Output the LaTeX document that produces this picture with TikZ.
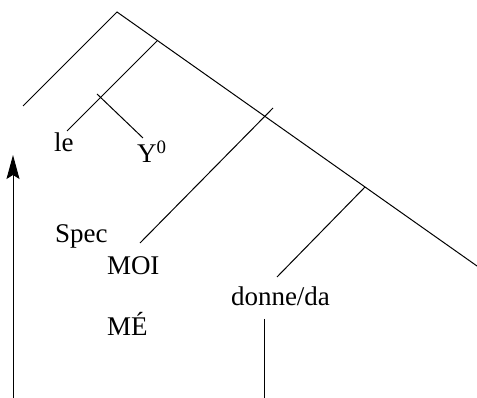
\documentclass[tikz,border=0pt]{standalone}
\usepackage{fontspec}
\setmainfont{Liberation Serif}
\usetikzlibrary{arrows.meta}
\begin{document}
\begin{tikzpicture}[x=1pt,y=-1pt,
  treeline/.style={line width=1pt,line cap=butt},
  lbl/.style={anchor=base west,inner sep=0pt,outer sep=0pt,font=\fontsize{27}{31}\selectfont}]
\useasboundingbox (0,0) rectangle (477,398);
% tree points
\coordinate (apex) at (117,12);
\coordinate (leftend) at (23,106);
\coordinate (rightend) at (477,266);
\coordinate (b2top) at (157,41);
\coordinate (b2end) at (67,131);
\coordinate (b3a) at (97,94);
\coordinate (b3b) at (143,138);
\coordinate (b4top) at (273,108);
\coordinate (b4end) at (140,243);
\coordinate (b5top) at (365,187);
\coordinate (b5end) at (277,277);
\coordinate (vtop) at (264,319);
\coordinate (vbot) at (264,398);
\coordinate (arrbot) at (13,398);
\coordinate (arrtip) at (13,155);
% labels
\node[lbl] (le) at (54,152) {le};
\node[lbl] (y0) at (137,163) {Y\textsuperscript{0}};
\node[lbl] (spec) at (55,243) {Spec};
\node[lbl] (moi) at (107,275) {MOI};
\node[lbl] (me) at (107,336) {MÉ};
\node[lbl] (donne) at (231,306) {donne/da};
% lines
\draw[treeline] (leftend) -- (apex) -- (rightend);
\draw[treeline] (b2top) -- (b2end);
\draw[treeline] (b3a) -- (b3b);
\draw[treeline] (b4top) -- (b4end);
\draw[treeline] (b5top) -- (b5end);
\draw[treeline] (vtop) -- (vbot);
\draw[treeline,-{Stealth[length=24pt,width=13pt,inset=4pt]}] (arrbot) -- (arrtip);
\end{tikzpicture}
\end{document}
